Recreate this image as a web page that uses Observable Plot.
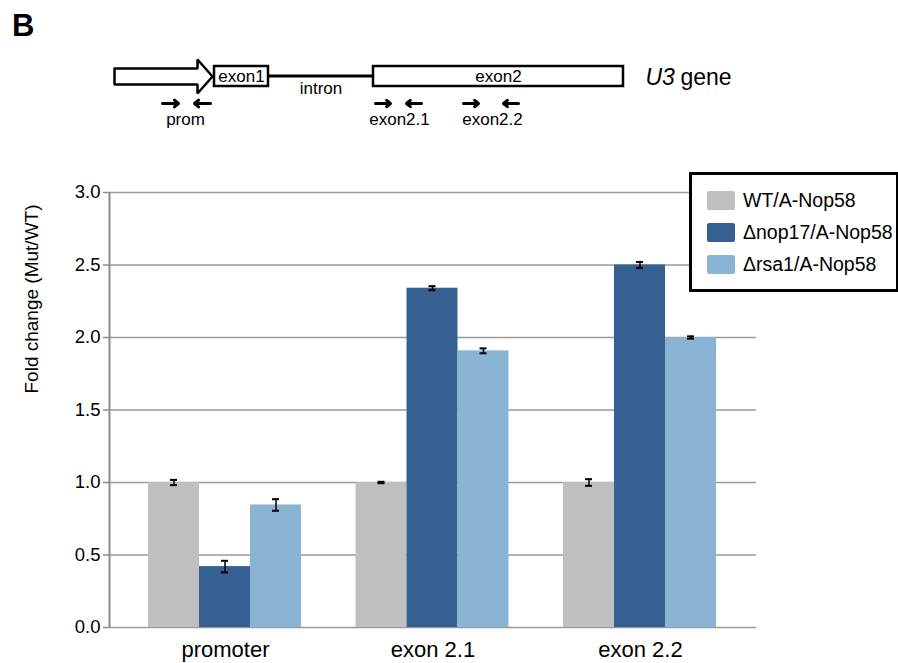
<!DOCTYPE html>
<html>
<head>
<meta charset="utf-8">
<script src="https://cdn.jsdelivr.net/npm/d3@7"></script>
<script src="https://cdn.jsdelivr.net/npm/@observablehq/plot@0.6"></script>
<style>
  html, body { margin: 0; padding: 0; background: #fff; }
  body { font-family: "Liberation Sans", Arial, Helvetica, sans-serif; }
  #root { position: relative; width: 898px; height: 663px; overflow: hidden; }
  .layer { position: absolute; left: 0; }
  #panel { position: absolute; left: 12px; top: 8px; font-weight: bold; font-size: 31px; line-height: 36px; }
  #ylabel { position: absolute; left: 32px; top: 299px; transform: translate(-50%, -50%) rotate(-90deg); font-size: 19px; white-space: nowrap; }
  #legend { position: absolute; left: 689px; top: 172px; width: 210px; height: 120px; box-sizing: border-box; border: 3px solid #000; background: #fff; padding-top: 9px; padding-left: 15px; }
  .row { height: 32px; display: flex; align-items: center; font-size: 19.5px; white-space: nowrap; }
  .sw { width: 28px; height: 19px; margin-right: 8px; border-radius: 2px; box-sizing: border-box; }
</style>
</head>
<body>
<div id="root">
  <div id="panel">B</div>
  <div id="diagram" class="layer" style="top:0"></div>
  <div id="bg" class="layer" style="top:150px"></div>
  <div id="fg" class="layer" style="top:150px"></div>
  <div id="ylabel">Fold change (Mut/WT)</div>
  <div id="legend"></div>
</div>
<script>
// ---------- Chart data ----------
const regions = ["promoter", "exon 2.1", "exon 2.2"];
const strains = ["WT/A-Nop58", "Δnop17/A-Nop58", "Δrsa1/A-Nop58"];
const strainColors = ["#bfbfbf", "#366092", "#89b4d4"];
const wtValues = [1.00, 1.00, 1.00];
const wtErrors = [0.018, 0.005, 0.023];
const nop17Values = [0.42, 2.34, 2.50];
const nop17Errors = [0.04, 0.014, 0.021];
const rsa1Values = [0.845, 1.908, 2.00];
const rsa1Errors = [0.04, 0.017, 0.008];
const yTicks = [0, 0.5, 1.0, 1.5, 2.0, 2.5, 3.0];

// ---------- Gene schematic data (schematic units) ----------
const promoterArrow = [
  {x: 114, y: 68}, {x: 197, y: 68}, {x: 197, y: 59}, {x: 212, y: 76},
  {x: 197, y: 93}, {x: 197, y: 84}, {x: 114, y: 84}, {x: 114, y: 68}
];
const exons = [
  {label: "exon1", start: 214, end: 268},
  {label: "exon2", start: 373, end: 623}
];
const introns = [{label: "intron", start: 268, end: 373}];
const primers = [
  {label: "prom", fwd: [162, 178], rev: [210, 194], center: 185},
  {label: "exon2.1", fwd: [375, 390], rev: [421, 406], center: 399},
  {label: "exon2.2", fwd: [463, 478], rev: [518, 503], center: 492}
];
const geneSymbol = [{text: "U3", x: 645}];
const geneWord = [{text: "gene", x: 680}];

const font = "'Liberation Sans', Arial, Helvetica, sans-serif";

// ---------- Gene schematic ----------
const arrows = primers.flatMap(p => [
  {x1: p.fwd[0], x2: p.fwd[1]},
  {x1: p.rev[0], x2: p.rev[1]}
]);
const diagram = Plot.plot({
  width: 898, height: 135,
  marginTop: 0, marginRight: 0, marginBottom: 0, marginLeft: 0,
  x: {domain: [0, 898], axis: null},
  y: {domain: [0, 135], reverse: true, axis: null},
  style: {fontFamily: font, background: "transparent"},
  marks: [
    Plot.line(promoterArrow, {x: "x", y: "y", fill: "white", stroke: "black", strokeWidth: 2.5, strokeLinejoin: "miter"}),
    Plot.ruleY(introns, {x1: "start", x2: "end", y: 75.5, stroke: "black", strokeWidth: 3}),
    Plot.rect(exons, {x1: "start", x2: "end", y1: 66, y2: 86, fill: "white", stroke: "black", strokeWidth: 2.5}),
    Plot.text(exons, {x: d => (d.start + d.end) / 2, y: 76, text: "label", fontSize: 17, fill: "black"}),
    Plot.text(introns, {x: d => (d.start + d.end) / 2, y: 88, text: "label", fontSize: 17, fill: "black"}),
    Plot.arrow(arrows, {x1: "x1", x2: "x2", y1: 103, y2: 103, stroke: "black", strokeWidth: 3, headLength: 8, headAngle: 80}),
    Plot.text(primers, {x: "center", y: 119, text: "label", fontSize: 17, fill: "black"}),
    Plot.text(geneSymbol, {x: "x", y: 77, text: "text", fontStyle: "italic", textAnchor: "start", fontSize: 23, fill: "black"}),
    Plot.text(geneWord, {x: "x", y: 77, text: "text", textAnchor: "start", fontSize: 23, fill: "black"})
  ]
});
document.getElementById("diagram").appendChild(diagram);

// ---------- Bar chart table ----------
const seriesValues = [wtValues, nop17Values, rsa1Values];
const seriesErrors = [wtErrors, nop17Errors, rsa1Errors];
const table = [];
regions.forEach((r, i) => {
  strains.forEach((s, j) => {
    table.push({region: r, strain: s, value: seriesValues[j][i], err: seriesErrors[j][i]});
  });
});

const W = 898, H = 513, mT = 42, mB = 36, mL = 109, mR = 142;

// Background: grid and y axis
const bg = Plot.plot({
  width: W, height: H,
  marginTop: mT, marginBottom: mB, marginLeft: mL, marginRight: mR,
  x: {domain: [0, 1], axis: null},
  y: {domain: [0, 3], axis: null},
  style: {fontFamily: font, background: "transparent", color: "black"},
  marks: [
    Plot.gridY(yTicks, {stroke: "#9a9a9a", strokeOpacity: 1, strokeWidth: 1.5}),
    Plot.ruleX([0], {y1: 0, y2: 3, stroke: "#8c8c8c", strokeWidth: 2}),
    Plot.axisY(yTicks, {tickSize: 6, tickPadding: 3, tickFormat: d3.format(".1f"), fontSize: 18.5, label: null, stroke: "#8c8c8c", strokeWidth: 1.5})
  ]
});
document.getElementById("bg").appendChild(bg);

// Foreground: grouped bars with error bars
const fg = Plot.plot({
  width: W, height: H,
  marginTop: mT, marginBottom: mB, marginLeft: mL, marginRight: mR,
  fx: {domain: regions, paddingInner: 0.2482, paddingOuter: 0.1832, round: false, label: null},
  x: {domain: strains, padding: 0, axis: null},
  y: {domain: [0, 3], axis: null},
  color: {domain: strains, range: strainColors},
  style: {fontFamily: font, background: "transparent", color: "black"},
  marks: [
    Plot.barY(table, {fx: "region", x: "strain", y: "value", fill: "strain"}),
    Plot.ruleX(table, {fx: "region", x: "strain", y1: d => d.value - d.err, y2: d => d.value + d.err, stroke: "black", strokeWidth: 1.5}),
    Plot.tickY(table, {fx: "region", x: "strain", y: d => d.value - d.err, insetLeft: 22, insetRight: 22, stroke: "black", strokeWidth: 2}),
    Plot.tickY(table, {fx: "region", x: "strain", y: d => d.value + d.err, insetLeft: 22, insetRight: 22, stroke: "black", strokeWidth: 2}),
    Plot.axisFx({anchor: "bottom", tickSize: 0, tickPadding: 14, fontSize: 22, label: null})
  ]
});
document.getElementById("fg").appendChild(fg);

// Legend
const legend = document.getElementById("legend");
strains.forEach((s, j) => {
  const row = document.createElement("div");
  row.className = "row";
  const sw = document.createElement("div");
  sw.className = "sw";
  sw.style.background = strainColors[j];
  const label = document.createElement("span");
  label.textContent = s;
  row.appendChild(sw);
  row.appendChild(label);
  legend.appendChild(row);
});
</script>
</body>
</html>
